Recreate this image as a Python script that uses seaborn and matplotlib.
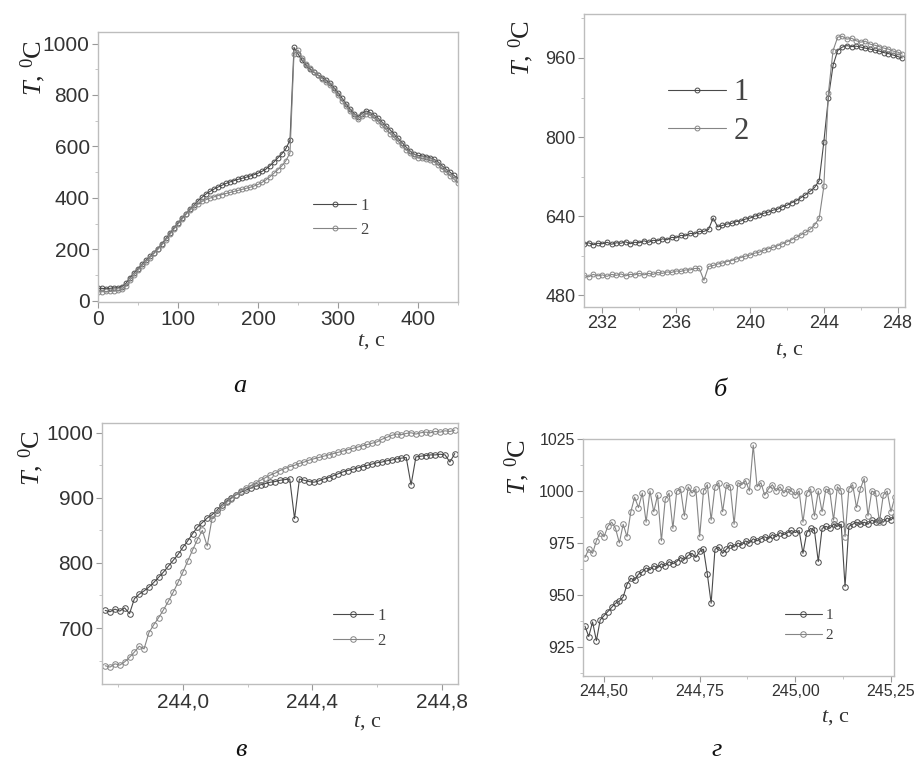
import numpy as np
import pandas as pd
import matplotlib
matplotlib.use("Agg")
import matplotlib.pyplot as plt
import seaborn as sns
from matplotlib.ticker import FuncFormatter, AutoMinorLocator

# ---------------- data ----------------
# panel а : whole run, sampled every 5 s from 0 s
a_t0, a_dt = 0.0, 5.0
a_s1 = [48, 48, 47, 48, 50, 50, 55, 68, 90, 108, 125, 142, 158, 172, 186, 203, 222, 242, 262, 283,
        302, 320, 338, 355, 372, 388, 402, 415, 425, 434, 442, 449, 456, 462, 467, 472, 476, 480, 485, 490,
        496, 503, 512, 525, 540, 556, 572, 592, 625, 985, 960, 935, 915, 900, 888, 878, 868, 858, 845, 828,
        808, 788, 765, 745, 728, 715, 728, 738, 732, 722, 710, 695, 680, 665, 648, 632, 615, 598, 582, 570,
        565, 563, 560, 556, 550, 540, 525, 512, 500, 487, 474]
a_s2 = [35, 35, 36, 36, 38, 40, 45, 58, 80, 100, 118, 136, 152, 168, 184, 200, 218, 238, 258, 279,
        298, 317, 336, 352, 366, 377, 386, 393, 399, 404, 409, 413, 417, 421, 425, 429, 433, 437, 441, 446,
        452, 460, 470, 482, 496, 510, 525, 545, 575, 960, 975, 945, 922, 905, 890, 876, 864, 852, 838, 820,
        800, 778, 756, 738, 720, 708, 718, 728, 722, 710, 697, 682, 666, 650, 635, 620, 604, 588, 574, 562,
        556, 555, 552, 548, 540, 528, 514, 500, 486, 472, 458]

# panel б : around the jump, sampled every 0.25 s from 231 s
b_t0, b_dt = 231.0, 0.25
b_s1 = [583, 586, 582, 585, 584, 587, 583, 586, 585, 588, 584, 587, 586, 590, 587, 591, 590, 594, 592, 597,
        596, 601, 600, 605, 604, 609, 609, 613, 636, 618, 621, 624, 625, 629, 630, 634, 636, 640, 642, 646,
        648, 652, 654, 659, 662, 667, 671, 677, 683, 690, 698, 712, 790, 880, 945, 975, 982, 985, 983, 984,
        982, 980, 978, 976, 974, 971, 969, 966, 963, 960]
b_s2 = [520, 517, 522, 519, 521, 518, 522, 520, 523, 519, 522, 521, 524, 521, 524, 522, 526, 524, 527, 526,
        529, 528, 531, 531, 534, 534, 510, 538, 540, 543, 545, 548, 550, 553, 556, 559, 561, 565, 567, 571,
        574, 577, 580, 584, 588, 592, 597, 602, 607, 613, 622, 636, 700, 890, 975, 1002, 1004, 998, 1000, 995,
        992, 994, 988, 986, 983, 980, 978, 974, 972, 968]

# panel в : 243.76 ... 244.84 s, sampled every 0.015 s
c_t0, c_dt = 243.76, 0.015
c_s1 = [727, 725, 729, 726, 731, 722, 745, 752, 757, 763, 770, 778, 786, 795, 804, 813, 824, 834, 845, 855,
        862, 869, 874, 881, 889, 895, 900, 905, 909, 912, 915, 918, 920, 922, 924, 925, 927, 928, 929, 868,
        929, 927, 925, 924, 926, 929, 931, 934, 937, 940, 942, 944, 946, 948, 950, 952, 954, 955, 957, 958,
        960, 961, 962, 920, 963, 964, 965, 966, 966, 967, 966, 955, 968]
c_s2 = [642, 640, 645, 643, 648, 655, 663, 672, 668, 693, 705, 716, 728, 741, 755, 770, 786, 803, 820, 836,
        850, 826, 868, 877, 886, 893, 899, 905, 910, 915, 919, 923, 927, 931, 935, 938, 942, 945, 948, 950,
        953, 955, 958, 960, 962, 964, 966, 968, 970, 972, 974, 976, 978, 980, 982, 984, 986, 990, 993, 996,
        998, 997, 999, 1000, 998, 1000, 1001, 1000, 1002, 1001, 1003, 1002, 1004]

# panel г : 244.45 ... 245.26 s, sampled every 0.01 s
d_t0, d_dt = 244.45, 0.01
d_s1 = [935, 930, 937, 928, 938, 940, 942, 944, 946, 947, 949, 955, 958, 957, 960, 961, 963, 962, 964, 963,
        965, 964, 966, 965, 966, 968, 967, 969, 970, 968, 971, 972, 960, 946, 972, 973, 970, 972, 974, 973,
        975, 974, 976, 975, 977, 976, 977, 978, 977, 979, 978, 980, 979, 980, 981, 980, 981, 970, 980, 982,
        981, 966, 982, 983, 982, 984, 983, 984, 954, 983, 984, 985, 984, 985, 984, 986, 985, 986, 985, 987,
        986, 988]
d_s2 = [968, 972, 970, 976, 980, 978, 983, 985, 982, 975, 984, 978, 990, 997, 992, 999, 985, 1000, 990, 998,
        976, 996, 999, 982, 1000, 1001, 988, 1002, 999, 1001, 978, 1000, 1003, 986, 1002, 1004, 990, 1003, 1002, 984,
        1004, 1003, 1005, 1000, 1022, 1002, 1004, 998, 1001, 1003, 1000, 1002, 999, 1001, 1000, 998, 1000, 985, 999, 1001,
        988, 1000, 990, 1001, 1000, 986, 1002, 1000, 978, 1001, 1003, 992, 1001, 1006, 988, 1000, 999, 985, 998, 1000,
        990, 997]

series_labels = ["1", "2"]
ylabel_text = r"$T$, $^{\mathrm{0}}$C"
xlabel_text = r"$t$, с"
captions = ["а", "б", "в", "г"]

a_xticks = [0, 100, 200, 300, 400]
a_yticks = [0, 200, 400, 600, 800, 1000]
b_xticks = [232, 236, 240, 244, 248]
b_yticks = [480, 640, 800, 960]
c_xticks = [244.0, 244.4, 244.8]
c_yticks = [700, 800, 900, 1000]
d_xticks = [244.50, 244.75, 245.00, 245.25]
d_yticks = [925, 950, 975, 1000, 1025]

# ---------------- style ----------------
sns.set_theme(style="ticks")
plt.rcParams["font.family"] = ["Liberation Sans", "DejaVu Sans"]
plt.rcParams["mathtext.fontset"] = "custom"
plt.rcParams["mathtext.it"] = "Liberation Serif:italic"
plt.rcParams["mathtext.rm"] = "Liberation Serif"
plt.rcParams["mathtext.default"] = "it"

W, H = 915, 769
fig = plt.figure(figsize=(W / 100, H / 100), dpi=100)


def box(l, r, t, b):
    return [l / W, 1 - b / H, (r - l) / W, (b - t) / H]


C1, C2 = "#4a4a4a", "#858585"


def panel(rect, t0, dt, s1, s2, xlim, ylim, xticks, yticks, fmt, tsize,
          ylab_pos, xlab_pos, leg_pos, leg_size, leg_spacing, handlelen, msize):
    ax = fig.add_axes(rect)
    for vals, col, lab in ((s1, C1, series_labels[0]), (s2, C2, series_labels[1])):
        t = t0 + dt * np.arange(len(vals))
        df = pd.DataFrame({"t": t, "T": vals})
        sns.lineplot(data=df, x="t", y="T", ax=ax, color=col, marker="o",
                     markersize=msize, markerfacecolor="none", markeredgecolor=col,
                     markeredgewidth=0.7, linewidth=0.8, label=lab,
                     estimator=None, sort=False)
    ax.set_xlim(*xlim)
    ax.set_ylim(*ylim)
    ax.set_xticks(xticks)
    ax.set_yticks(yticks)
    if fmt is not None:
        ax.xaxis.set_major_formatter(FuncFormatter(fmt))
    ax.xaxis.set_minor_locator(AutoMinorLocator(2))
    ax.yaxis.set_minor_locator(AutoMinorLocator(2))
    ax.tick_params(which="major", direction="out", length=4, width=0.8, color="#999999",
                   labelcolor="#333333", labelsize=tsize, pad=2)
    ax.tick_params(which="minor", direction="out", length=2, width=0.6, color="#bbbbbb")
    for sp in ax.spines.values():
        sp.set_color("#bdbdbd")
        sp.set_linewidth(1.0)
        sp.set_visible(True)

    ax.set_ylabel(ylabel_text, fontsize=19, color="#222222", family="Liberation Serif")
    ax.yaxis.label.set(rotation_mode="default", ha="center", va="top")
    ax.yaxis.set_label_coords(*ylab_pos)
    ax.set_xlabel(xlabel_text, fontsize=16, color="#333333", family="Liberation Serif")
    ax.xaxis.label.set(ha="center", va="center")
    ax.xaxis.set_label_coords(*xlab_pos)

    leg = ax.legend(loc="upper left", bbox_to_anchor=leg_pos, frameon=False,
                    borderpad=0, borderaxespad=0,
                    labelspacing=leg_spacing, handlelength=handlelen, handletextpad=0.25,
                    prop={"family": "Liberation Serif", "size": leg_size})
    for txt in leg.get_texts():
        txt.set_color("#444444")
    return ax


panel(box(98, 458, 32, 302), a_t0, a_dt, a_s1, a_s2, (0, 450), (-5, 1045),
      a_xticks, a_yticks, None, 15,
      (-0.18, 0.97), (0.76, -0.148), (0.597, 0.385), 12, 0.45, 2.6, 3.5)

panel(box(584, 905, 14, 307), b_t0, b_dt, b_s1, b_s2, (231.0, 248.4), (456, 1049),
      b_xticks, b_yticks, None, 13,
      (-0.196, 0.98), (0.64, -0.147), (0.262, 0.78), 22, 0.3, 1.9, 3.5)

panel(box(102, 458, 423, 684), c_t0, c_dt, c_s1, c_s2, (243.75, 244.85), (614, 1015),
      c_xticks, c_yticks, lambda v, p: f"{v:.1f}".replace(".", ","), 15,
      (-0.2, 0.973), (0.744, -0.146), (0.649, 0.29), 12, 0.5, 2.4, 4)

panel(box(583, 894, 439, 676), d_t0, d_dt, d_s1, d_s2, (244.445, 245.258), (911, 1024),
      d_xticks, d_yticks, lambda v, p: f"{v:.2f}".replace(".", ","), 11.5,
      (-0.212, 1.0), (0.81, -0.173), (0.65, 0.285), 11, 0.4, 2.4, 4)

cap_pos = [(240, 386), (720, 390), (241, 750), (717, 750)]
for (x, y), cap in zip(cap_pos, captions):
    fig.text(x / W, 1 - y / H, cap, ha="center", va="center", fontsize=19,
             family="Liberation Serif", style="italic", color="#111111")

fig.savefig("out.png", dpi=100, facecolor="white")
